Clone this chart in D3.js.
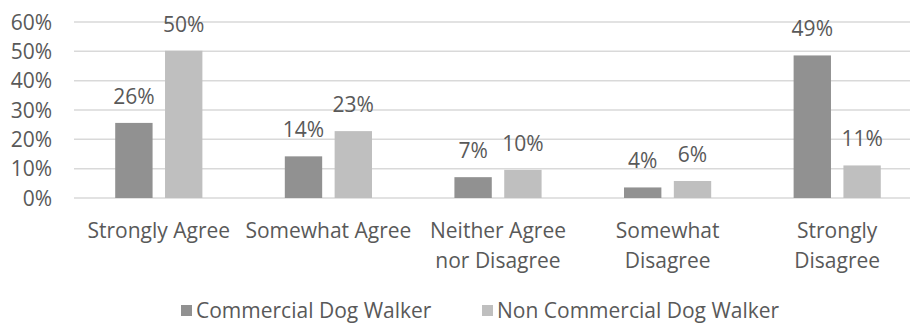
<!DOCTYPE html>
<html>
<head>
<meta charset="utf-8">
<script src="https://cdn.jsdelivr.net/npm/d3@7"></script>
<style>
  html, body { margin: 0; padding: 0; background: #ffffff; }
  svg { display: block; }
  text { font-family: "Open Sans", "DejaVu Sans", sans-serif; fill: #595959; }
</style>
</head>
<body>
<svg id="chart" width="910" height="325"></svg>
<script>
// ---- data ----
const categories = ["Strongly Agree", "Somewhat Agree", "Neither Agree nor Disagree", "Somewhat Disagree", "Strongly Disagree"];
const categoryLines = [["Strongly Agree"], ["Somewhat Agree"], ["Neither Agree", "nor Disagree"], ["Somewhat", "Disagree"], ["Strongly", "Disagree"]];
const seriesNames = ["Commercial Dog Walker", "Non Commercial Dog Walker"];
const commercial = [25.6, 14.2, 7.1, 3.6, 48.6];
const nonCommercial = [50.2, 22.8, 9.6, 5.8, 11.1];
const yTicks = [0, 10, 20, 30, 40, 50, 60];
const colors = ["#919191", "#bfbfbf"];

const series = [commercial, nonCommercial];

const svg = d3.select("#chart");
const W = 910;
const FS = 21;

const x0 = d3.scaleBand().domain(categories).range([74, 922]).paddingInner(0.486).paddingOuter(0.243);
const x1 = d3.scaleBand().domain(seriesNames).range([0, x0.bandwidth()]).paddingInner(0.25);
const y = d3.scaleLinear().domain([0, 60]).range([198, 22]);

// gridlines
svg.append("g").selectAll("line").data(yTicks).join("line")
  .attr("x1", 74).attr("x2", W)
  .attr("y1", d => y(d)).attr("y2", d => y(d))
  .attr("stroke", "#d9d9d9").attr("stroke-width", 1.5);

// y tick labels
svg.append("g").selectAll("text").data(yTicks).join("text")
  .attr("x", 52).attr("y", d => y(d)).attr("dy", "0.36em")
  .attr("text-anchor", "end").attr("font-size", FS)
  .text(d => d + "%");

// bars
const groups = svg.append("g").selectAll("g").data(categories).join("g")
  .attr("transform", d => `translate(${x0(d)},0)`);

groups.each(function (cat, ci) {
  const g = d3.select(this);
  seriesNames.forEach((s, si) => {
    const v = series[si][ci];
    g.append("rect")
      .attr("x", x1(s)).attr("width", x1.bandwidth())
      .attr("y", y(v)).attr("height", y(0) - y(v))
      .attr("fill", colors[si]);
    g.append("text")
      .attr("x", x1(s) + x1.bandwidth() / 2)
      .attr("y", y(v) - 19)
      .attr("text-anchor", "middle").attr("font-size", FS)
      .text(Math.round(v) + "%");
  });
});

// category labels
const catG = svg.append("g").selectAll("text").data(categories).join("text")
  .attr("text-anchor", "middle").attr("font-size", FS)
  .attr("x", d => x0(d) + x0.bandwidth() / 2);
catG.each(function (d, i) {
  const t = d3.select(this);
  categoryLines[i].forEach((ln, li) => {
    t.append("tspan").attr("x", x0(d) + x0.bandwidth() / 2).attr("y", 238 + li * 30).text(ln);
  });
});

// legend
const legendX = [181, 482];
const leg = svg.append("g").selectAll("g").data(seriesNames).join("g")
  .attr("transform", (d, i) => `translate(${legendX[i]},0)`);
leg.append("rect").attr("x", 0).attr("y", 305).attr("width", 11).attr("height", 11)
  .attr("fill", (d, i) => colors[i]);
leg.append("text").attr("x", 15).attr("y", 318).attr("font-size", FS).text(d => d);
</script>
</body>
</html>
